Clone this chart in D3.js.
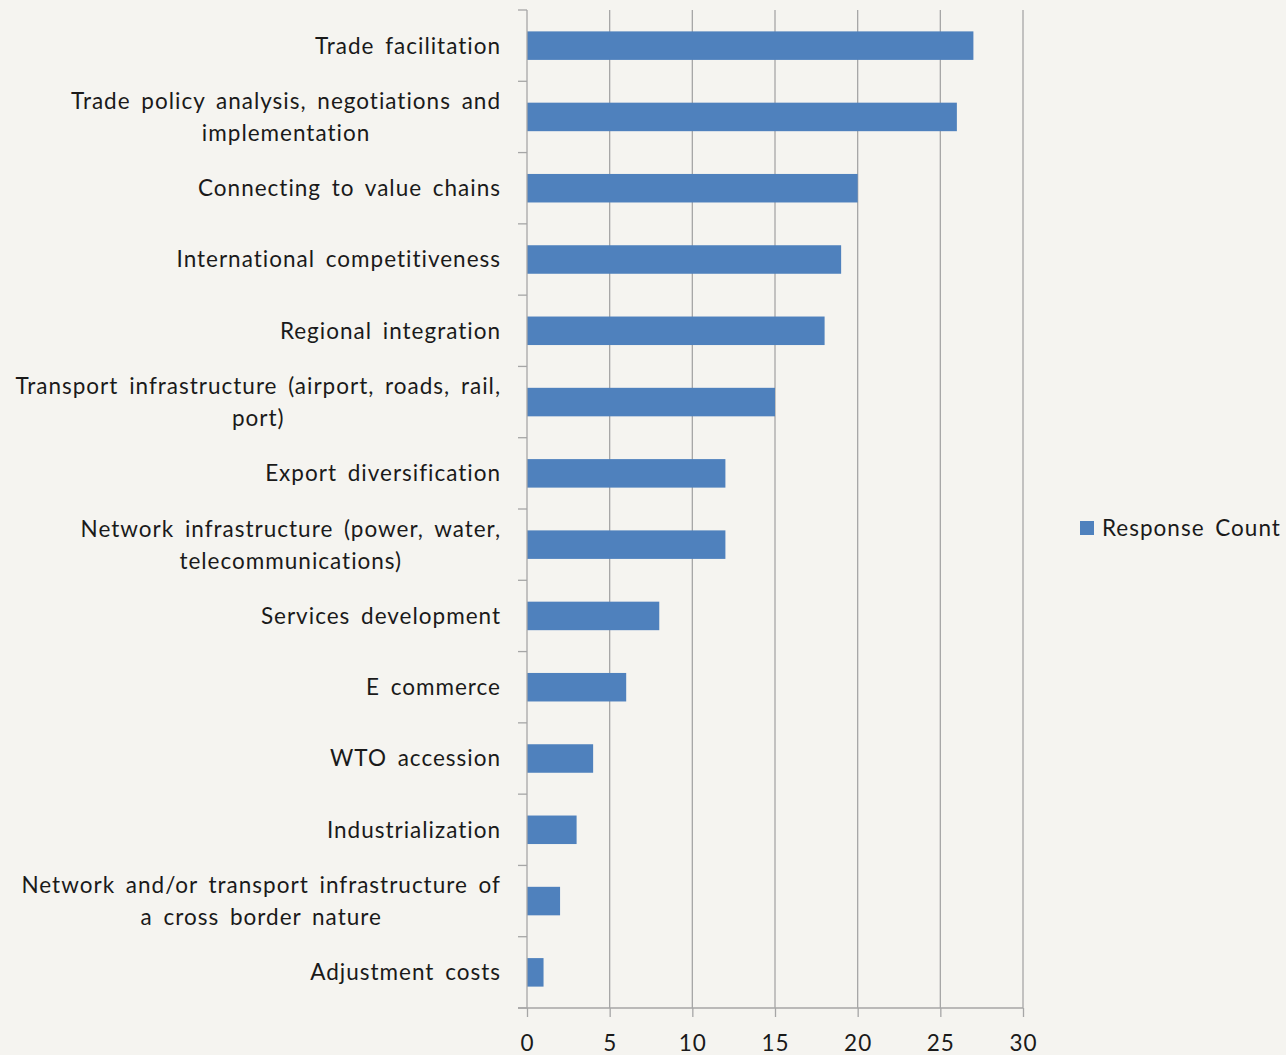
<!DOCTYPE html>
<html>
<head>
<meta charset="utf-8">
<script src="https://cdn.jsdelivr.net/npm/d3@7"></script>
<style>
  html, body { margin: 0; padding: 0; background: #f5f4f0; }
  svg { display: block; font-family: Lato, "Open Sans", sans-serif; }
</style>
</head>
<body>
<svg id="chart" width="1286" height="1055"></svg>
<script>
// Survey categories, top to bottom ("\n" marks a line break in the label)
const categories = [
  "Trade facilitation",
  "Trade policy analysis, negotiations and\nimplementation",
  "Connecting to value chains",
  "International competitiveness",
  "Regional integration",
  "Transport infrastructure (airport, roads, rail,\nport)",
  "Export diversification",
  "Network infrastructure (power, water,\ntelecommunications)",
  "Services development",
  "E commerce",
  "WTO accession",
  "Industrialization",
  "Network and/or transport infrastructure of\na cross border nature",
  "Adjustment costs"
];
const responseCount = [27, 26, 20, 19, 18, 15, 12, 12, 8, 6, 4, 3, 2, 1];
const xTicks = [0, 5, 10, 15, 20, 25, 30];
const seriesName = "Response Count";

const svg = d3.select("#chart");
const plot = { left: 527, right: 1023, top: 10, bottom: 1008 };
const barColor = "#4f81bd";
const gridColor = "#a6a6a6";
const textColor = "#1a1a1a";
const fontSize = 22.5;
const letterSpacing = "1px";
const wordSpacing = "4px";

const x = d3.scaleLinear().domain([0, 30]).range([plot.left, plot.right]);
const y = d3.scaleBand().domain(categories).range([plot.top, plot.bottom]).paddingInner(0.6).paddingOuter(0.3);
const yBand = d3.scaleBand().domain(categories).range([plot.top, plot.bottom]);

// vertical gridlines
svg.append("g").selectAll("line").data(xTicks.slice(1)).join("line")
  .attr("x1", d => x(d)).attr("x2", d => x(d))
  .attr("y1", plot.top).attr("y2", plot.bottom)
  .attr("stroke", gridColor).attr("stroke-width", 1.3);

// bars
svg.append("g").selectAll("rect").data(categories).join("rect")
  .attr("x", x(0))
  .attr("y", d => y(d))
  .attr("width", (d, i) => x(responseCount[i]) - x(0))
  .attr("height", y.bandwidth())
  .attr("fill", barColor);

// x axis
const xAxis = svg.append("g")
  .attr("transform", `translate(0,${plot.bottom})`)
  .call(d3.axisBottom(x).tickValues(xTicks).tickSize(9).tickPadding(18));
xAxis.select(".domain").attr("stroke", gridColor).attr("stroke-width", 1.3)
  .attr("d", `M${plot.left - 9},0H${plot.right}`);
xAxis.selectAll(".tick line").attr("stroke", gridColor).attr("stroke-width", 1.3);
xAxis.selectAll(".tick text").attr("fill", textColor)
  .style("font-size", fontSize + "px").style("letter-spacing", letterSpacing)
  .style("font-family", "Lato, 'Open Sans', sans-serif");

// y axis: line with ticks at band boundaries
const yAxis = svg.append("g");
yAxis.append("line")
  .attr("x1", plot.left).attr("x2", plot.left)
  .attr("y1", plot.top).attr("y2", plot.bottom)
  .attr("stroke", gridColor).attr("stroke-width", 1.3);
const boundaries = categories.map(c => yBand(c)).concat([plot.bottom]);
yAxis.selectAll("line.tick").data(boundaries).join("line")
  .attr("class", "tick")
  .attr("x1", plot.left - 9).attr("x2", plot.left)
  .attr("y1", d => d).attr("y2", d => d)
  .attr("stroke", gridColor).attr("stroke-width", 1.3);

// category labels: block right-aligned to the axis, lines centred within the block
const labelRight = 501;
const lineHeight = 32;
categories.forEach(c => {
  const lines = c.split("\n");
  const g = svg.append("g");
  const cy = yBand(c) + yBand.bandwidth() / 2;
  const texts = lines.map((ln, i) => g.append("text")
    .attr("y", cy + (i - (lines.length - 1) / 2) * lineHeight)
    .attr("dy", "0.35em")
    .attr("text-anchor", "middle")
    .attr("fill", textColor)
    .style("font-size", fontSize + "px")
    .style("letter-spacing", letterSpacing)
    .style("word-spacing", wordSpacing)
    .text(ln));
  const w = d3.max(texts, t => t.node().getComputedTextLength());
  texts.forEach(t => t.attr("x", labelRight - w / 2));
});

// legend
const legend = svg.append("g").attr("transform", "translate(1080,521)");
legend.append("rect").attr("width", 14).attr("height", 14).attr("fill", barColor);
legend.append("text").attr("x", 22).attr("y", 7).attr("dy", "0.35em")
  .attr("fill", textColor).style("font-size", fontSize + "px")
  .style("letter-spacing", letterSpacing).style("word-spacing", wordSpacing)
  .text(seriesName);
</script>
</body>
</html>
